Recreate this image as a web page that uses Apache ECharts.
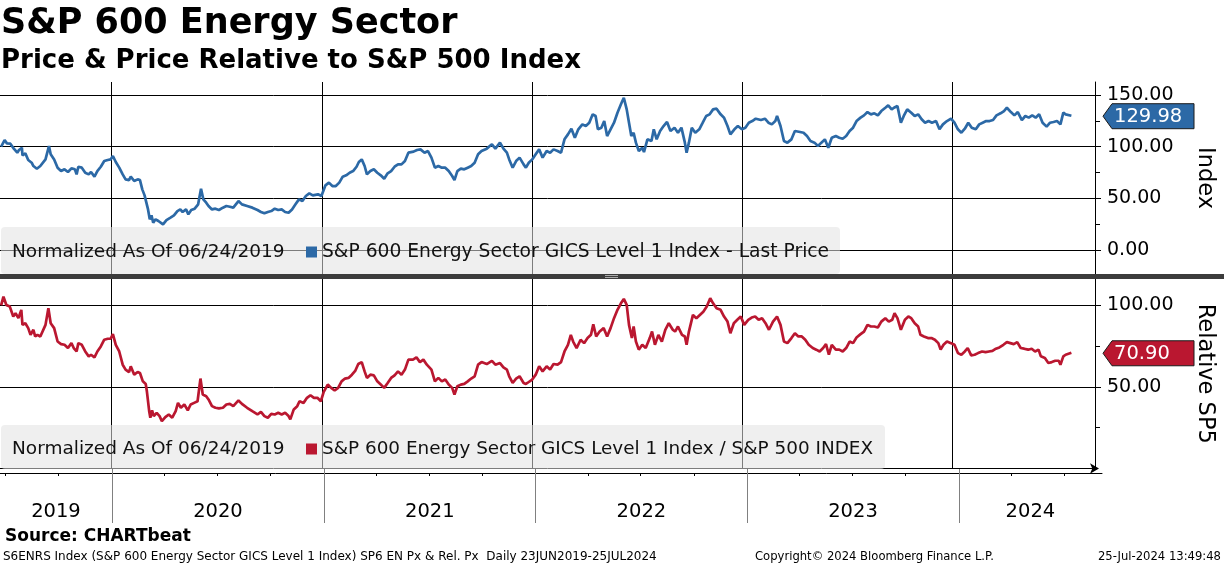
<!DOCTYPE html>
<html><head><meta charset="utf-8">
<script src="https://cdn.jsdelivr.net/npm/echarts@6/dist/echarts.min.js"></script>
<style>html,body{margin:0;padding:0;background:#fff;}#c{width:1224px;height:566px;}</style>
</head><body><div id="c"></div>
<script>
// ---------- data ----------
const START_DATE = '2019-06-24';           // normalization date, day offsets counted from it
const priceDays = [0,6,10,16,22,28,31,36,37,42,47,53,56,59,62,68,71,77,83,86,92,98,104,110,116,122,128,131,134,140,146,152,156,162,167,173,179,185,190,194,199,205,211,216,222,225,231,237,241,245,249,252,255,258,261,264,268,273,276,281,287,294,300,306,311,315,321,325,330,336,342,347,351,356,360,366,372,378,385,391,397,403,412,418,427,436,445,451,457,463,469,475,481,487,493,499,505,511,517,523,529,535,541,550,556,563,569,575,581,587,593,599,605,611,617,621,626,631,635,641,647,653,659,665,671,677,683,689,695,701,707,716,722,728,735,741,747,753,759,765,771,777,783,787,792,798,804,810,816,822,828,834,843,852,858,866,872,878,882,888,894,900,907,911,916,922,928,934,940,
947,953,959,966,972,978,984,990,996,1002,1009,1015,1021,1027,1032,1036,1042,1047,1052,1058,1064,1070,1076,1081,1086,1090,1094,1098,1102,1107,1113,1116,1122,1129,1133,1138,1144,1150,1156,1162,1169,1175,1181,1187,1190,1194,1199,1205,1212,1218,1224,1230,1236,1242,1249,1255,1261,1266,1273,1279,1286,1292,1298,1304,1310,1319,1326,1332,1338,1344,1347,1353,1359,1365,1372,1378,1387,1393,1399,1405,1412,1418,1424,1430,1436,1442,1449,1455,1461,1467,1473,1479,1485,1492,1498,1504,1510,1516,1522,1528,1535,1540,1546,1550,1556,1562,1567,1573,1580,1586,1592,1598,1604,1610,1616,1623,1629,1635,1642,1649,1655,1661,1667,1673,1679,1685,1692,1698,1704,1710,1716,1722,1728,1735,1741,1746,1753,1759,1765,1772,1778,1784,1790,1796,1802,1808,1815,1821,1827,1833,1839,1844,1848,1858];
const priceVals = [100,106.4,103.2,102.9,98.1,94.2,96.8,99,91.6,93.5,87.1,84.5,81.3,82.9,78.7,81.3,79.7,87.7,100.6,92.6,87.7,79.7,76.4,78.1,75.5,79,78.1,73.2,80.6,79.7,74.8,73.2,75.5,71,76.4,80.6,86.1,87.1,87.7,91,85.2,79.7,73.2,68.4,67.7,71,66.8,68.4,67.7,58.7,52.9,52.3,39.3,29.7,33.5,26.4,29.7,28.1,26.4,24.8,29,31.3,33.5,37.7,39.3,36.8,39.3,34.5,38.7,40,44.2,59.3,49,45.8,42.6,39.3,40,38.7,41,42.6,41.9,41,47.4,44.2,42.6,41,38.7,36.8,35.5,36.8,37.7,40,38.7,39.3,36.8,36.1,39.3,44.2,49,47.4,52.3,54.8,52.9,53.9,52.3,62.6,65.2,61.9,61.9,65.2,71,72.3,74.8,76.4,80.6,85.2,87.7,81.3,73.2,76.4,78.1,74.8,72.3,69,74.2,76.4,80.6,82.9,82.9,86.1,94.2,95.2,96.8,97.4,94.2,95.8,89.4,79.7,81.3,79.7,79.7,76.4,71.6,67.7,76.4,78.7,78.1,79.7,81.3,84.5,92.6,95.8,98.1,102.3,98.1,103.9,98.1,94.2,87.7,79.7,86.1,89.4,82.9,79.7,84.5,87.7,92.6,97.4,89.4,
95.8,94.2,97.4,95.8,94.2,107.1,111.9,117.4,108.7,116.8,121.6,120,123.2,131.3,129.7,116.8,118.4,124.8,110.3,116.8,123.2,132.9,141,147.4,136.1,123.2,110.3,113.5,103.9,95.8,99,94.8,107.1,105.5,116.8,107.1,115.2,120,123.9,115.2,118.4,113.5,118.4,103.9,94.2,103.9,118.4,113.5,116.8,123.2,129.7,131.3,136.1,136.8,131.3,128.1,120,111.9,116.8,120,116.8,118.4,123.2,124.8,127.1,125.8,127.1,123.2,121.6,124.8,129.7,120,105.5,103.9,107.1,115.2,114.2,113.5,110.3,105.5,103.9,100.6,103.9,107.1,99,108.7,110.3,108.7,107.7,110.3,115.2,118.4,124.8,128.1,130.3,133.5,131.3,132.3,130.3,134.5,137.7,140,136.1,137.7,139.4,123.2,129.7,136.1,132.9,129.7,131.3,126.5,123.2,124.8,123.2,124.8,116.8,121.6,124.8,127.1,123.2,116.8,113.5,117.4,123.2,118.4,116.8,121.6,123.2,124.8,124.8,125.8,130.3,132.3,134.5,137.7,133.5,130.3,133.5,125.8,129.7,128.1,130.3,128.1,131.3,123.2,119.4,123.2,123.9,124.8,121.6,132.9,131.3,129.98];
const relDays = [0,4,9,15,21,25,30,35,37,42,47,51,56,59,63,68,71,77,82,86,92,98,104,110,116,122,126,131,134,140,146,152,156,162,167,173,179,185,190,194,199,205,211,216,222,225,231,237,241,246,251,253,257,259,262,265,270,275,279,285,291,297,303,307,312,318,324,329,335,341,346,350,356,360,366,372,378,385,391,397,403,412,418,427,436,445,451,457,463,469,475,481,487,493,499,502,508,514,518,525,531,537,543,549,555,560,567,573,579,585,591,597,603,609,615,620,626,631,635,641,647,653,659,665,671,677,683,689,695,701,707,715,721,727,733,739,747,753,759,765,771,777,783,787,792,798,804,810,816,822,828,834,843,852,858,866,872,878,882,888,894,900,907,911,916,922,928,934,940,
947,953,959,966,972,978,984,989,993,999,1006,1012,1018,1024,1028,1033,1039,1046,1052,1058,1064,1070,1076,1081,1086,1090,1095,1098,1102,1107,1113,1119,1126,1130,1135,1141,1147,1153,1159,1166,1170,1175,1178,1182,1187,1190,1194,1201,1207,1213,1219,1225,1231,1236,1242,1249,1255,1261,1266,1272,1278,1284,1290,1297,1303,1309,1315,1321,1327,1333,1340,1347,1353,1359,1365,1372,1378,1384,1390,1396,1402,1409,1415,1421,1427,1432,1437,1442,1449,1455,1461,1467,1473,1479,1485,1492,1498,1504,1510,1516,1522,1528,1535,1541,1547,1551,1556,1562,1569,1575,1580,1586,1592,1596,1602,1609,1615,1621,1627,1631,1636,1642,1649,1655,1661,1667,1673,1678,1684,1690,1696,1703,1709,1715,1721,1727,1733,1740,1746,1752,1758,1764,1770,1776,1783,1789,1795,1801,1805,1812,1818,1824,1830,1836,1839,1844,1848,1858];
const relVals = [100,105.3,100.2,99.2,93.1,95.1,92.1,97.2,88,89,86,81.9,85,80.9,81.9,80.9,81.9,88,98.2,89,86,77.8,76.2,75.8,73.8,76.8,73.8,71.7,76.8,75.8,71.7,68.7,69.7,68.1,71.7,74.8,78.9,79.5,79.5,82.3,75.8,71.7,63.6,60.6,59.1,62.6,57.5,59.1,58.5,53.4,51.8,47.3,35.1,31.1,35.6,32.1,34.1,32.1,29,31.5,33.1,31.1,35.1,40.2,37.2,39.2,35.6,39.2,40.2,41.2,55.1,45.3,44.3,42.3,38.2,37.2,36.8,37.2,39.2,39.6,38.2,41.7,39.6,37.2,35.1,33.1,34.7,32.1,31.1,33.5,33.1,34.1,33.1,34.1,32.1,30.1,36.2,38.2,41.2,40.2,43.3,44.9,43.3,43.3,41.2,46.9,51.4,49.4,47.8,49.4,53.4,55.1,55.5,57.5,60,64,65.2,59.5,55.5,57.5,57.1,53.4,51.4,49.4,52.4,55.5,57.1,59.5,57.5,60.6,66.7,66.7,68.1,65.2,66.7,63.6,60.6,53.4,55.5,53.4,54.5,51.4,49.4,45.3,50.4,51.4,51.8,53.4,55.1,56.5,63.6,65.2,64,66,63.6,64.6,62,60.6,56.5,52.4,55.1,56.5,52.4,51.8,53,54.5,57.5,62.6,59.5,
62.6,60.6,64,63.6,65.2,71.7,75.8,81.9,77.8,73.8,78.9,76.8,79.9,81.9,88.4,80.9,83.9,86,80.9,86,92.1,97.2,101.2,103.9,100.2,88,79.9,87,77.8,72.8,75.8,73.8,79.9,83.9,75.8,81.9,77.8,85,89,85,83.9,87,88,81.9,80.9,75.8,83.9,94.1,92.1,94.1,96.1,99.2,104.3,101.2,98.2,97.2,93.1,90,82.9,89,91.1,93.1,88,91.1,92.5,93.1,91.1,92.1,89,85,90,93.1,88,77.8,76.8,79.9,82.9,80.9,80.9,78.9,75.8,73.8,72.8,71.7,73.8,76.2,69.7,75.8,72.8,72.8,71.7,73.8,77.8,76.8,80.3,82.3,83.9,88,87,87,86.4,90,92.1,90,91.1,95.1,92.1,85,91.1,93.1,92.1,89,87,81.9,80.9,79.9,79.9,78.9,76.8,72.8,75.8,77.8,76.8,75.8,70.7,69.7,71.7,73.8,69.3,69.7,70.7,71.7,71.3,71.7,72.1,73.4,74.2,75.8,77.4,76.8,76.2,77.4,73.8,73.4,72.8,73.4,71.7,72.8,68.7,67.7,64.6,65.2,66,66,63.6,68.7,69.7,70.9];
const yearStarts = ['2020-01-01','2021-01-01','2022-01-01','2023-01-01','2024-01-01'];
const yearLabels = ['2019','2020','2021','2022','2023','2024'];
const quarterTicks = ['2019-07-01','2019-10-01','2020-01-01','2020-04-01','2020-07-01','2020-10-01','2021-01-01','2021-04-01','2021-07-01','2021-10-01','2022-01-01','2022-04-01','2022-07-01','2022-10-01','2023-01-01','2023-04-01','2023-07-01','2023-10-01','2024-01-01','2024-04-01','2024-07-01'];
const axisRange = ['2019-06-22','2024-09-04'];
const priceTicks = [0,50,100,150];
const priceMinorTicks = [25,75,125];
const relTicks = [50,100];
const relMinorTicks = [25,75];
const priceName = 'S&P 600 Energy Sector GICS Level 1 Index - Last Price';
const relName = 'S&P 600 Energy Sector GICS Level 1 Index / S&P 500 INDEX';

// ---------- build ----------
const ts = s => Date.parse(s + 'T00:00:00Z');
const DAY = 864e5;
const t0 = ts(START_DATE);
const priceData = priceDays.map((d,i)=>[t0 + d*DAY, priceVals[i]]);
const relData = relDays.map((d,i)=>[t0 + d*DAY, relVals[i]]);
const xMin = ts(axisRange[0]), xMax = ts(axisRange[1]);
const yearTs = yearStarts.map(ts);
const bounds = [xMin].concat(yearTs, [xMax]);
const yearMid = yearLabels.map((y,i)=>[(bounds[i]+bounds[i+1])/2, 0.2]);

const BLUE = '#2c69a6', RED = '#ba1730';
const FONT = 'DejaVu Sans';
const txt = {fontFamily: FONT, color: '#000'};

function yearLines(color){
  return {silent:true, symbol:['none','none'], label:{show:false},
    lineStyle:{color:color, width:1, type:'solid'},
    data: yearTs.map(t=>({xAxis:t}))};
}
const valueAxisBase = (gridIndex, min, max, ticks, name, nameGap) => ({
  type:'value', gridIndex, position:'right', min, max,
  axisLine:{show:true, lineStyle:{color:'#000', width:1}},
  axisTick:{show:true, length:6, customValues:ticks, lineStyle:{color:'#000'}},
  axisLabel:{show:true, customValues:ticks, margin:12, formatter:v=>v.toFixed(2), fontSize:19, ...txt},
  splitLine:{show:true, lineStyle:{color:'#000', width:1}},
  name, nameLocation:'middle', nameRotate:-90, nameGap,
  nameTextStyle:{fontSize:22.5, fontFamily:FONT, color:'#000'}
});
const minorAxis = (gridIndex, min, max, ticks) => ({
  type:'value', gridIndex, position:'right', min, max,
  axisLine:{show:false}, axisLabel:{show:false}, splitLine:{show:false},
  axisTick:{show:true, length:5, customValues:ticks, lineStyle:{color:'#000'}}
});

const chart = echarts.init(document.getElementById('c'), null, {renderer:'canvas'});
const option = {
  animation:false,
  backgroundColor:'#fff',
  grid:[
    {left:0, right:122, top:82, height:192},
    {left:0, right:122, top:279, height:189.5},
    {left:0, right:122, top:469, height:54}
  ],
  xAxis:[
    {type:'time', gridIndex:0, min:xMin, max:xMax, show:false},
    {type:'time', gridIndex:1, min:xMin, max:xMax,
      axisLine:{show:true, onZero:false, lineStyle:{color:'#000', width:1}, symbol:['none','arrow'], symbolSize:[8,9], symbolOffset:[0,4]},
      axisTick:{show:false}, axisLabel:{show:false}, splitLine:{show:false}},
    {type:'time', gridIndex:2, min:xMin, max:xMax, position:'top', offset:-4,
      axisLine:{show:true, onZero:false, lineStyle:{color:'#000', width:1}},
      axisTick:{show:true, inside:true, length:3, customValues:quarterTicks.map(ts), lineStyle:{color:'#000'}},
      axisLabel:{show:false}, splitLine:{show:false}}
  ],
  yAxis:[
    valueAxisBase(0, -23.2, 162.6, priceTicks, 'Index', 98),
    minorAxis(0, -23.2, 162.6, priceMinorTicks),
    valueAxisBase(1, 0, 116.1, relTicks, 'Relative SP5', 98),
    minorAxis(1, 0, 116.1, relMinorTicks),
    {type:'value', gridIndex:2, min:0, max:1, show:false}
  ],
  series:[
    {type:'line', name:priceName, xAxisIndex:0, yAxisIndex:0, data:priceData, symbol:'none',
      lineStyle:{color:BLUE, width:2.7}, itemStyle:{color:BLUE}, z:5, markLine:yearLines('#000')},
    {type:'line', name:relName, xAxisIndex:1, yAxisIndex:2, data:relData, symbol:'none',
      lineStyle:{color:RED, width:2.7}, itemStyle:{color:RED}, z:5, markLine:yearLines('#000')},
    {type:'scatter', xAxisIndex:2, yAxisIndex:4, data:yearMid, symbolSize:0.5, silent:true,
      itemStyle:{color:'#fff'},
      label:{show:true, position:'inside', formatter:p=>yearLabels[p.dataIndex], fontSize:19.5,
        fontFamily:FONT, color:'#000', textBorderWidth:0, opacity:1},
      markLine:yearLines('#808080')}
  ],
  graphic:[
    {type:'text', left:1, top:6, style:{text:'S&P 600 Energy Sector', font:'bold 35px "DejaVu Sans"', fill:'#000'}},
    {type:'text', left:1, top:48, style:{text:'Price & Price Relative to S&P 500 Index', font:'bold 26px "DejaVu Sans"', fill:'#000'}},
    {type:'rect', z:100, shape:{x:1,y:227,width:839,height:47,r:4}, style:{fill:'rgba(226,226,226,0.55)'}},
    {type:'text', z:101, x:12, y:252, style:{text:'Normalized As Of 06/24/2019', font:'18.5px "DejaVu Sans"', fill:'#111', textVerticalAlign:'middle'}},
    {type:'rect', z:101, shape:{x:306,y:246.5,width:11,height:11}, style:{fill:BLUE}},
    {type:'text', z:101, x:322, y:252, style:{text:priceName, font:'18.7px "DejaVu Sans"', fill:'#111', textVerticalAlign:'middle'}},
    {type:'rect', z:100, shape:{x:1,y:425,width:884,height:44,r:4}, style:{fill:'rgba(226,226,226,0.55)'}},
    {type:'text', z:101, x:12, y:449, style:{text:'Normalized As Of 06/24/2019', font:'18.5px "DejaVu Sans"', fill:'#111', textVerticalAlign:'middle'}},
    {type:'rect', z:101, shape:{x:306,y:443.5,width:11,height:11}, style:{fill:RED}},
    {type:'text', z:101, x:322, y:449, style:{text:relName, font:'18.4px "DejaVu Sans"', fill:'#111', textVerticalAlign:'middle'}},
    {type:'rect', z:110, shape:{x:0,y:274,width:1224,height:5}, style:{fill:'#3c3c3c'}},
    {type:'line', z:111, shape:{x1:605,y1:275.5,x2:618,y2:275.5}, style:{stroke:'#aaa', lineWidth:1}},
    {type:'line', z:111, shape:{x1:605,y1:277.5,x2:618,y2:277.5}, style:{stroke:'#aaa', lineWidth:1}},
    {type:'text', x:5, y:537, style:{text:'Source: CHARTbeat', font:'bold 17px "DejaVu Sans"', fill:'#000', textVerticalAlign:'middle'}},
    {type:'text', x:3, y:557, style:{text:'S6ENRS Index (S&P 600 Energy Sector GICS Level 1 Index) SP6 EN Px & Rel. Px  Daily 23JUN2019-25JUL2024', font:'12px "DejaVu Sans"', fill:'#000', textVerticalAlign:'middle'}},
    {type:'text', x:755, y:557, style:{text:'Copyright\u00A9 2024 Bloomberg Finance L.P.', font:'11.6px "DejaVu Sans"', fill:'#000', textVerticalAlign:'middle'}},
    {type:'text', x:1221, y:557, style:{text:'25-Jul-2024 13:49:48', font:'11.6px "DejaVu Sans"', fill:'#000', textAlign:'right', textVerticalAlign:'middle'}}
  ]
};
chart.setOption(option);

// last-value tags on the right axes, positioned through the axis scales
function tag(id, yAxisIndex, val, color){
  const y = chart.convertToPixel({yAxisIndex}, val) + 0.5;
  const x0 = 1103;
  return [
    {id:id+'b', type:'polygon', z:120, shape:{points:[[x0,y],[x0+9,y-12.5],[1194,y-12.5],[1194,y+12.5],[x0+9,y+12.5]]},
      style:{fill:color, stroke:'#1a1a1a', lineWidth:1}},
    {id:id+'t', type:'text', z:121, x:1114, y:y+1, style:{text:val.toFixed(2), font:'19.5px "DejaVu Sans"', fill:'#fff', textVerticalAlign:'middle'}}
  ];
}
chart.setOption({graphic: option.graphic.concat(
  tag('p', 0, priceVals[priceVals.length-1], BLUE),
  tag('r', 2, relVals[relVals.length-1], RED))});
</script></body></html>
